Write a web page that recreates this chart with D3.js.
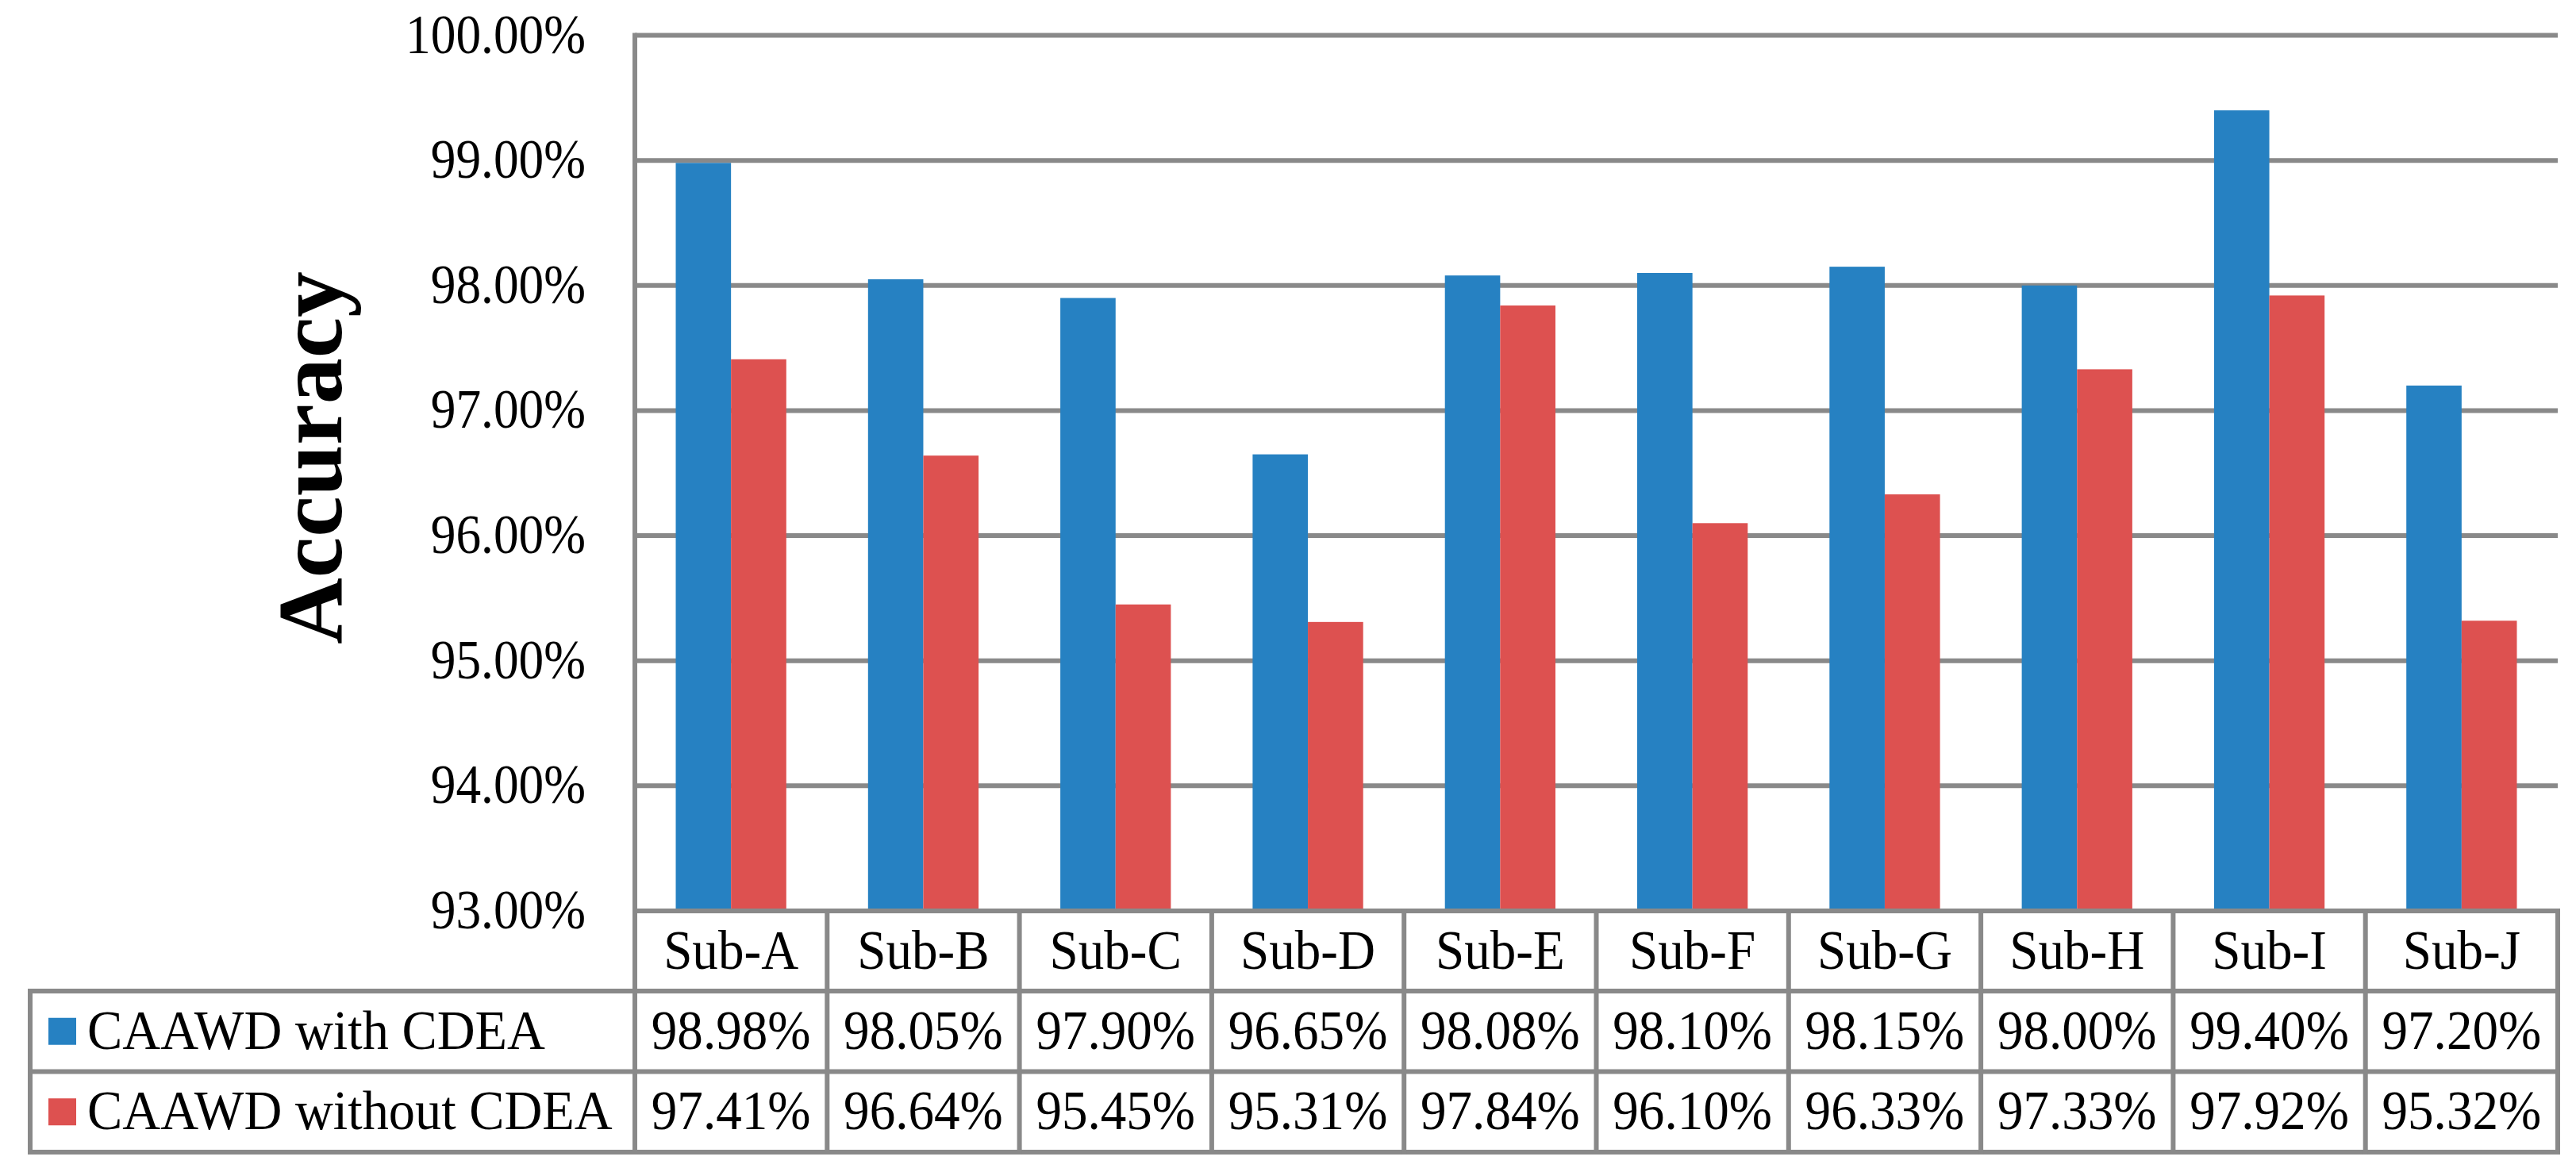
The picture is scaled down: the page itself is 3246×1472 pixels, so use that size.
<!DOCTYPE html>
<html>
<head>
<meta charset="utf-8">
<script src="https://cdn.jsdelivr.net/npm/d3@7/dist/d3.min.js"></script>
<style>
  html, body { margin: 0; padding: 0; background: #fff; }
  svg { display: block; }
  text { font-family: "Liberation Serif", "Times New Roman", serif; fill: #000; }
</style>
</head>
<body>
<svg id="chart" width="3246" height="1472"></svg>
<script>
// ---- data ----
const categories = ["Sub-A","Sub-B","Sub-C","Sub-D","Sub-E","Sub-F","Sub-G","Sub-H","Sub-I","Sub-J"];
const seriesNames = ["CAAWD with CDEA","CAAWD without CDEA"];
const withCDEA    = [98.98, 98.05, 97.90, 96.65, 98.08, 98.10, 98.15, 98.00, 99.40, 97.20];
const withoutCDEA = [97.41, 96.64, 95.45, 95.31, 97.84, 96.10, 96.33, 97.33, 97.92, 95.32];
const yTicks = [93, 94, 95, 96, 97, 98, 99, 100];
const yTitle = "Accuracy";

const series = [withCDEA, withoutCDEA];
const colors = ["#2681C2", "#DD5150"];
const gridColor = "#898989";
const lw = 6;

const svg = d3.select("#chart");

const plotLeft = 800, plotRight = 3223, plotTop = 44.5, plotBottom = 1148;
const tableLeft = 38;
const rowEdges = [1148, 1249, 1350.5, 1452];

const x = d3.scaleBand().domain(categories).range([plotLeft, plotRight]).padding(0);
const bw = x.bandwidth();
const x1 = d3.scaleBand().domain(d3.range(series.length)).range([bw * 0.2126, bw * 0.7874]).padding(0);
const y = d3.scaleLinear().domain([93, 100]).range([plotBottom, plotTop]);

// gridlines
svg.append("g").selectAll("line").data(yTicks.filter(t => t > 93)).join("line")
  .attr("x1", plotLeft).attr("x2", plotRight)
  .attr("y1", d => y(d)).attr("y2", d => y(d))
  .attr("stroke", gridColor).attr("stroke-width", lw);

// bars
const groups = svg.append("g").selectAll("g").data(categories).join("g")
  .attr("transform", d => `translate(${x(d)},0)`);
groups.selectAll("rect").data((d, i) => series.map((s, k) => ({k, v: s[i]}))).join("rect")
  .attr("x", d => x1(d.k)).attr("width", x1.bandwidth())
  .attr("y", d => y(d.v)).attr("height", d => y(93) - y(d.v))
  .attr("fill", d => colors[d.k]);

function stext(g, tx, ty, str, anchor, size, sx, weight) {
  return g.append("text")
    .attr("transform", `translate(${tx},${ty}) scale(${sx},1)`)
    .attr("text-anchor", anchor)
    .style("font-size", size + "px")
    .style("font-weight", weight || "normal")
    .text(str);
}

// y tick labels
const yAxisG = svg.append("g");
yTicks.forEach(t => {
  stext(yAxisG, 738, y(t) + 22, d3.format(".2f")(t) + "%", "end", 70, 0.905);
});

// y title
svg.append("text")
  .attr("transform", `translate(430,577) rotate(-90)`)
  .attr("text-anchor", "middle")
  .style("font-size", "116px").style("font-weight", "bold")
  .text(yTitle);

// table lines
const tg = svg.append("g").attr("stroke", gridColor).attr("stroke-width", lw).attr("stroke-linecap", "square");
tg.append("line").attr("x1", plotLeft).attr("x2", plotRight).attr("y1", rowEdges[0]).attr("y2", rowEdges[0]);
[1, 2, 3].forEach(i => {
  tg.append("line").attr("x1", tableLeft).attr("x2", plotRight).attr("y1", rowEdges[i]).attr("y2", rowEdges[i]);
});
tg.append("line").attr("x1", tableLeft).attr("x2", tableLeft).attr("y1", rowEdges[1]).attr("y2", rowEdges[3]);
tg.append("line").attr("x1", plotLeft).attr("x2", plotLeft).attr("y1", plotTop).attr("y2", rowEdges[3]);
categories.forEach((c, i) => {
  const xx = x(c) + bw;
  tg.append("line").attr("x1", xx).attr("x2", xx).attr("y1", rowEdges[0]).attr("y2", rowEdges[3]);
});

// table text
const tt = svg.append("g");
const rowMid = i => (rowEdges[i] + rowEdges[i + 1]) / 2;
categories.forEach(c => stext(tt, x(c) + bw / 2, rowMid(0) + 22, c, "middle", 70, 0.93));
series.forEach((s, k) => {
  s.forEach((v, i) => stext(tt, x(categories[i]) + bw / 2, rowMid(k + 1) + 22, d3.format(".2f")(v) + "%", "middle", 70, 0.93));
  svg.append("rect").attr("x", 61).attr("y", rowMid(k + 1) - 17).attr("width", 35).attr("height", 34).attr("fill", colors[k]);
  stext(tt, 110, rowMid(k + 1) + 22, seriesNames[k], "start", 70, 0.948);
});
</script>
</body>
</html>
